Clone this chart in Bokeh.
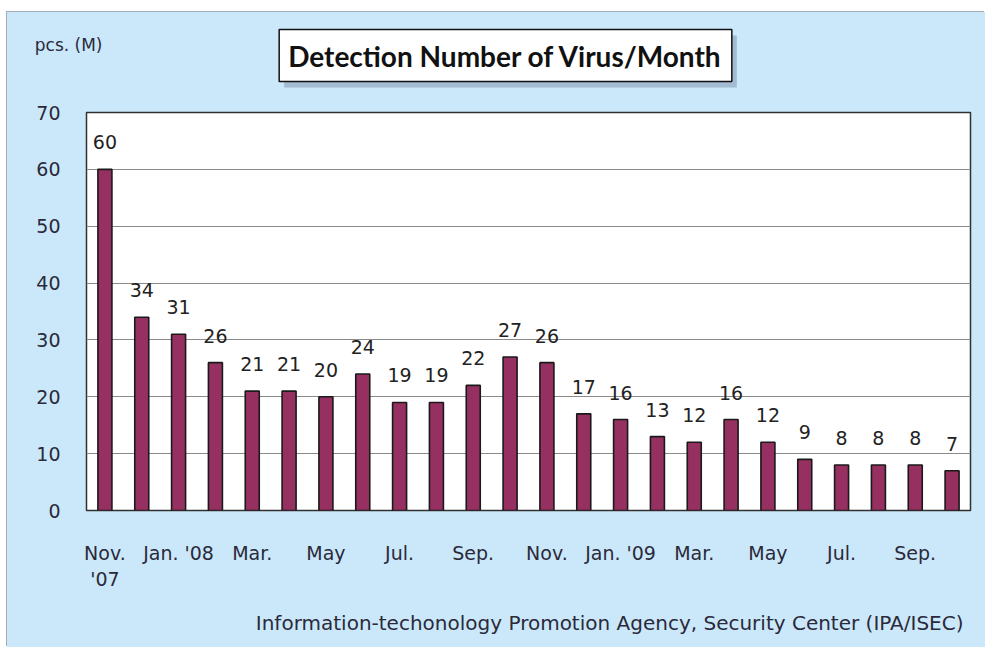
from bokeh.plotting import figure
from bokeh.models import FixedTicker, Label, ColumnDataSource, Range1d, LinearAxis
from bokeh.layouts import column
from bokeh.embed import file_html
from bokeh.resources import INLINE
from bokeh.core.properties import value

months = ["Nov. '07", "Dec. '07", "Jan. '08", "Feb. '08", "Mar. '08", "Apr. '08",
          "May '08", "Jun. '08", "Jul. '08", "Aug. '08", "Sep. '08", "Oct. '08",
          "Nov. '08", "Dec. '08", "Jan. '09", "Feb. '09", "Mar. '09", "Apr. '09",
          "May '09", "Jun. '09", "Jul. '09", "Aug. '09", "Sep. '09", "Oct. '09"]
detections = [60, 34, 31, 26, 21, 21, 20, 24, 19, 19, 22, 27,
              26, 17, 16, 13, 12, 16, 12, 9, 8, 8, 8, 7]
tick_positions = [0, 2, 4, 6, 8, 10, 12, 14, 16, 18, 20, 22]
tick_labels = ["Nov.\n'07", "Jan. '08", "Mar.", "May", "Jul.", "Sep.",
               "Nov.", "Jan. '09", "Mar.", "May", "Jul.", "Sep."]
y_ticks = [0, 10, 20, 30, 40, 50, 60, 70]
title_txt = "Detection Number of Virus/Month"
unit_txt = "pcs. (M)"
source_txt = "Information-techonology Promotion Agency, Security Center (IPA/ISEC)"

FONT = "DejaVu Sans"
TFONT = "Lato"
BG = "#CBE8FA"
BAR = "#953060"
TXT = "#2a2a3a"
SHADOW = "#8a9fb5"

W = 978
TOP_H, BOT_H = 85, 42
FW, FH = 884, 398
ML, MT, MR, MB = 79, 15, 15, 95
X0, X1 = -0.5, len(months) - 0.5
Y0, Y1 = 0, 70


def band(h):
    # frame of a band is aligned by the column with the chart frame (FW wide)
    f = figure(width=W, height=h, x_range=Range1d(0, FW), y_range=Range1d(0, h),
               output_backend="svg", toolbar_location=None,
               x_axis_type=None, y_axis_type=None, min_border=0)
    f.background_fill_color = BG
    f.border_fill_color = BG
    f.outline_line_color = None
    f.xgrid.visible = False
    f.ygrid.visible = False
    return f


# ---- header band: unit label (as an axis tick label) and boxed title with shadow
top = band(TOP_H)
unit_pos = TOP_H - 32
unit_axis = LinearAxis(ticker=FixedTicker(ticks=[unit_pos]),
                       major_label_overrides={unit_pos: unit_txt},
                       axis_line_color=None, major_tick_line_color=None,
                       minor_tick_line_color=None,
                       major_label_text_font=FONT, major_label_text_font_size="17px",
                       major_label_text_color=TXT, major_label_standoff=-22)
top.add_layout(unit_axis, "left")

tx, ty = 419, TOP_H - 43
top.add_layout(Label(x=tx + 5, y=ty - 6, text=title_txt, text_font=TFONT,
                     text_font_size="28px", text_font_style="bold",
                     text_color=SHADOW, text_alpha=0.6,
                     text_align="center", text_baseline="middle",
                     background_fill_color=SHADOW, background_fill_alpha=0.6,
                     padding=9))
top.add_layout(Label(x=tx, y=ty, text=title_txt, text_font=TFONT,
                     text_font_size="28px", text_font_style="bold",
                     text_color="#111111", text_align="center", text_baseline="middle",
                     background_fill_color="white", border_line_color="#111111",
                     border_line_width=1.5, padding=9))

# ---- main chart
p = figure(width=W, height=MT + FH + MB,
           x_range=(X0, X1), y_range=(Y0, Y1),
           output_backend="svg", toolbar_location=None,
           min_border_left=ML, min_border_top=MT,
           min_border_right=MR, min_border_bottom=MB)
p.background_fill_color = "white"
p.border_fill_color = BG
p.outline_line_color = "#303030"
p.outline_line_width = 1.5

xs = list(range(len(months)))
src = ColumnDataSource(dict(x=xs, y=detections, month=months,
                            lbl=[str(v) for v in detections]))
p.vbar(x="x", top="y", width=0.38, bottom=0, source=src,
       fill_color=BAR, line_color="#1a1a1a", line_width=1.6)
p.text(x="x", y="y", text="lbl", source=src, y_offset=-27,
       text_align="center", text_baseline="middle",
       text_font=value(FONT), text_font_size="19px", text_color="#222222")

p.xaxis.ticker = FixedTicker(ticks=tick_positions)
p.xaxis.major_label_overrides = {t: l for t, l in zip(tick_positions, tick_labels)}
p.yaxis.ticker = FixedTicker(ticks=y_ticks)
for ax in (p.xaxis[0], p.yaxis[0]):
    ax.axis_line_color = None
    ax.major_tick_line_color = None
    ax.minor_tick_line_color = None
    ax.major_label_text_font = FONT
    ax.major_label_text_font_size = "19px"
    ax.major_label_text_color = TXT
p.xaxis.major_label_standoff = 25
p.yaxis.major_label_standoff = 20
p.xgrid.grid_line_color = None
p.ygrid.grid_line_color = "#8a8a8a"
p.ygrid.grid_line_width = 1

# ---- footer band: source credit
bot = band(BOT_H)
bot.add_layout(Label(x=FW - 7, y=BOT_H - 17, text=source_txt, text_font=FONT,
                     text_font_size="20px", text_color=TXT,
                     text_align="right", text_baseline="middle"))

layout = column(top, p, bot, spacing=0, margin=(12, 0, 0, 7),
                styles={"background-color": BG,
                        "box-shadow": "-1px -1px 0 0 #a3acb3"})
open("out.html", "w").write(file_html(layout, INLINE))
